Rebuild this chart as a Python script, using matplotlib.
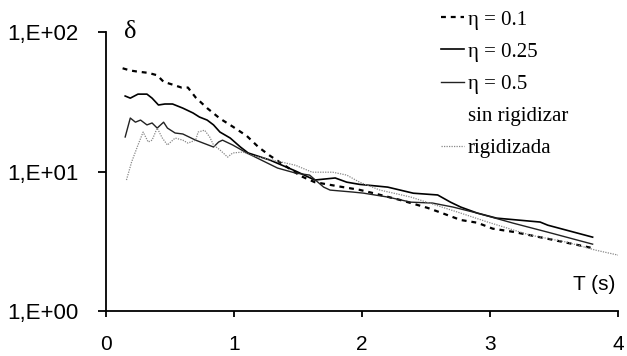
import matplotlib
matplotlib.use("Agg")
import matplotlib.pyplot as plt
from matplotlib.ticker import FixedLocator, NullLocator

# Period T (s) and amplification delta
T_01 = [0.13, 0.19, 0.25, 0.33, 0.40, 0.45, 0.52, 0.59, 0.64, 0.70, 0.79, 0.89,
        0.99, 1.10, 1.19, 1.28, 1.40, 1.52, 1.63, 1.83, 1.98, 2.09, 2.30, 2.51,
        2.61, 2.77, 2.90, 3.02, 3.18, 3.45, 3.80]
d_01 = [55.0, 53.0, 52.0, 51.0, 49.0, 44.0, 42.0, 40.0, 40.0, 34.0, 28.5, 24.0,
        21.0, 18.0, 15.0, 13.0, 11.0, 9.3, 8.4, 7.8, 7.4, 7.0, 6.25, 5.5,
        5.1, 4.5, 4.3, 3.9, 3.7, 3.3, 2.83]

T_025 = [0.15, 0.19, 0.25, 0.32, 0.36, 0.41, 0.46, 0.52, 0.60, 0.68, 0.73, 0.79,
         0.84, 0.89, 0.97, 1.05, 1.11, 1.28, 1.48, 1.63, 1.79, 1.88, 1.98, 2.20,
         2.40, 2.59, 2.69, 2.77, 2.90, 3.05, 3.39, 3.45, 3.80]
d_025 = [34.8, 33.6, 35.9, 35.9, 33.6, 30.0, 30.5, 30.5, 28.5, 26.3, 24.6, 23.4,
         21.6, 19.2, 17.4, 15.0, 13.6, 12.1, 10.1, 8.7, 9.0, 8.4, 8.1, 7.74,
         7.0, 6.8, 6.04, 5.57, 5.04, 4.64, 4.35, 4.13, 3.39]

T_05 = [0.15, 0.19, 0.23, 0.27, 0.32, 0.36, 0.40, 0.45, 0.48, 0.54, 0.60, 0.70,
        0.76, 0.84, 0.88, 0.91, 0.99, 1.10, 1.34, 1.48, 1.59, 1.70, 1.75, 1.93,
        2.01, 2.20, 2.38, 2.55, 2.71, 2.90, 3.18, 3.45, 3.80]
d_05 = [17.7, 24.2, 22.6, 23.4, 21.6, 22.3, 20.5, 22.6, 20.5, 18.9, 18.6, 16.8,
        16.0, 15.0, 16.3, 16.8, 15.5, 13.6, 10.6, 9.76, 9.44, 7.74, 7.37, 7.13,
        7.01, 6.57, 6.04, 5.95, 5.57, 5.04, 4.27, 3.68, 3.02]

T_rig = [0.16, 0.20, 0.25, 0.29, 0.33, 0.36, 0.40, 0.44, 0.48, 0.54, 0.60, 0.64,
         0.70, 0.72, 0.77, 0.81, 0.84, 0.89, 0.95, 0.99, 1.07, 1.13, 1.30, 1.48,
         1.61, 1.77, 1.88, 1.98, 2.14, 2.38, 2.77, 2.98, 3.31, 3.60, 3.82, 4.00]
d_rig = [8.7, 11.7, 15.5, 19.2, 16.3, 16.8, 20.5, 17.4, 15.5, 17.4, 16.8, 16.0,
         16.8, 19.2, 19.8, 17.7, 15.5, 14.3, 12.7, 13.6, 13.8, 13.1, 12.1, 11.1,
         9.9, 9.9, 9.44, 8.4, 7.37, 6.57, 5.04, 4.35, 3.51, 3.12, 2.74, 2.52]

y_ticks = [1, 10, 100]
y_labels = ["1,E+00", "1,E+01", "1,E+02"]
x_ticks = [0, 1, 2, 3, 4]

fig = plt.figure(figsize=(6.27, 3.56), dpi=100)
ax = fig.add_axes([0.169, 0.126, 0.817, 0.784])

ax.plot(T_01, d_01, color="black", lw=1.6, dashes=(2.2, 2.2), label="η = 0.1")
ax.plot(T_025, d_025, color="black", lw=1.2, label="η = 0.25")
ax.plot(T_05, d_05, color="#222222", lw=1.0, label="η = 0.5")
ax.plot([], [], color="none", label="sin rigidizar")
ax.plot(T_rig, d_rig, color="#888888", lw=0.9, dashes=(1, 1), label="rigidizada")

ax.set_yscale("log")
ax.set_ylim(1, 100)
ax.set_xlim(0, 4)
ax.yaxis.set_major_locator(FixedLocator(y_ticks))
ax.yaxis.set_minor_locator(NullLocator())
ax.set_yticklabels(y_labels)
ax.set_xticks(x_ticks)
ax.set_xticklabels([str(x) for x in x_ticks])

for s in ["top", "right"]:
  ax.spines[s].set_visible(False)
for s in ["left", "bottom"]:
  ax.spines[s].set_linewidth(1.3)

ax.tick_params(axis="y", direction="out", length=6, width=1.3, pad=14,
               labelsize=16, labelfontfamily="Liberation Sans")
ax.tick_params(axis="x", direction="out", length=4, width=1.3, pad=13,
               labelsize=15, labelfontfamily="Liberation Sans")

ax.text(0.036, 1.0, "δ", transform=ax.transAxes, fontsize=19,
        family="Liberation Serif", ha="left", va="center")
ax.text(0.994, 0.06, "T (s)", transform=ax.transAxes, fontsize=15,
        family="Liberation Sans", ha="right", va="bottom")

leg = ax.legend(loc="upper left", bbox_to_anchor=(0.69, 0.995),
                bbox_transform=fig.transFigure, frameon=False,
                prop={"family": "Liberation Serif", "size": 15},
                handlelength=1.1, handletextpad=0.2, labelspacing=0.6,
                borderaxespad=0)

fig.savefig("out.png", dpi=100)
